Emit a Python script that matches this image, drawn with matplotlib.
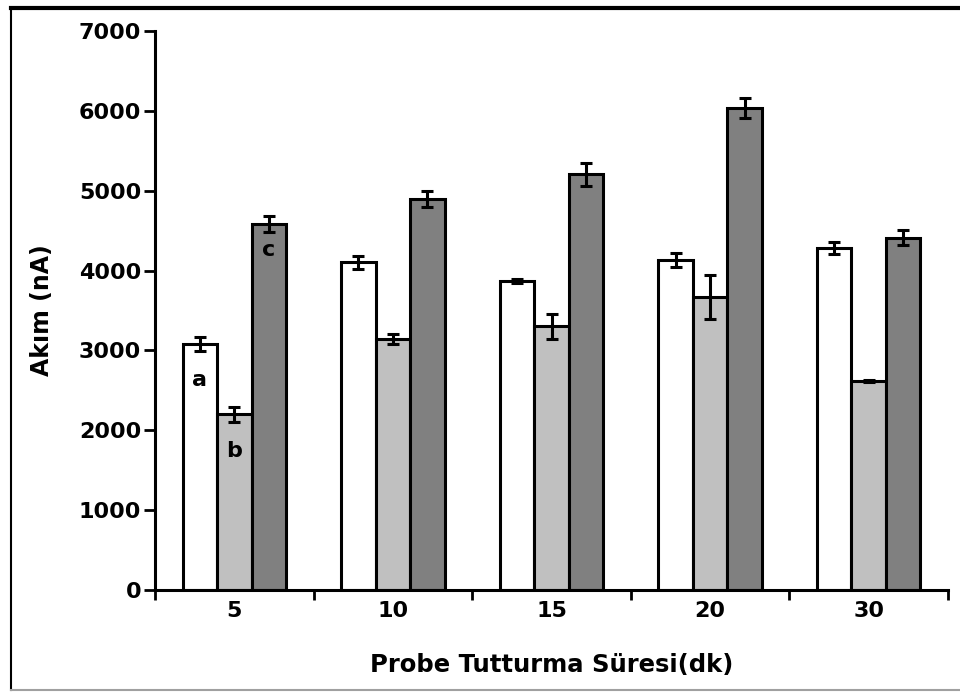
import matplotlib.pyplot as plt
from matplotlib.lines import Line2D
import numpy as np

# Data
groups = ['5', '10', '15', '20', '30']
series_a = [3080, 4105, 3870, 4130, 4280]
series_b = [2200, 3140, 3300, 3665, 2620]
series_c = [4580, 4900, 5205, 6035, 4410]
err_a = [90, 80, 30, 85, 75]
err_b = [90, 60, 160, 275, 15]
err_c = [100, 100, 140, 125, 95]
letters = ['a', 'b', 'c']
letter_y = [2630, 1740, 4255]

plt.rcParams['font.family'] = 'DejaVu Sans'
plt.rcParams['font.weight'] = 'bold'

fig = plt.figure(figsize=(9.6, 6.92), dpi=100)
ax = fig.add_axes([155 / 960, 1 - 590 / 692, (948 - 155) / 960, (590 - 31) / 692])

x = np.arange(len(groups))
w = 0.2175
lw = 2.2
colors = ['white', '#c0c0c0', '#808080']
series = [series_a, series_b, series_c]
errs = [err_a, err_b, err_c]

for k, (vals, err, col) in enumerate(zip(series, errs, colors)):
    pos = x + (k - 1) * w
    ax.bar(pos, vals, width=w, color=col, edgecolor='black', linewidth=lw, zorder=2)
    ax.errorbar(pos, vals, yerr=err, fmt='none', ecolor='black', elinewidth=lw,
                capsize=4.3, capthick=lw, zorder=3)
    ax.text(pos[0], letter_y[k], letters[k], ha='center', va='center',
            fontsize=16, fontweight='bold', zorder=4)

ax.set_xlim(-0.5, len(groups) - 0.5)
ax.set_ylim(0, 7000)
ax.set_yticks(np.arange(0, 7001, 1000))
ax.set_xticks(x)
ax.set_xticklabels(groups)
ax.set_xticks(np.arange(-0.5, len(groups)), minor=True)
ax.tick_params(axis='x', which='major', length=0, labelsize=16, pad=8)
ax.tick_params(axis='x', which='minor', length=7, width=2)
ax.tick_params(axis='y', length=8, width=2, labelsize=16, pad=2)

for side in ['top', 'right']:
    ax.spines[side].set_visible(False)
for side in ['left', 'bottom']:
    ax.spines[side].set_linewidth(lw)

ax.set_ylabel('Akım (nA)', fontsize=17, fontweight='bold')
ax.set_xlabel('Probe Tutturma Süresi(dk)', fontsize=17.5, fontweight='bold', labelpad=23)
ax.yaxis.set_label_coords(-0.127, 0.5)

# outer frame
fig.add_artist(Line2D([11 / 960, 1], [1 - 7.5 / 692] * 2, color='black', lw=3))
fig.add_artist(Line2D([11 / 960] * 2, [2 / 692, 1 - 7.5 / 692], color='black', lw=1.5))
fig.add_artist(Line2D([11 / 960, 1], [2 / 692] * 2, color='#a0a0a0', lw=1.5))

fig.savefig('out.png', dpi=100)
